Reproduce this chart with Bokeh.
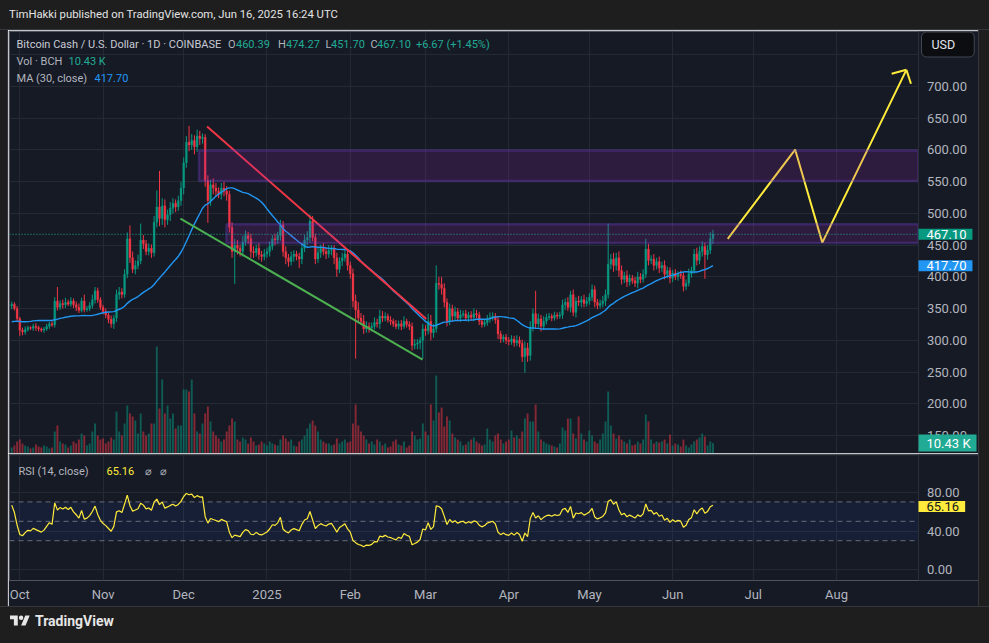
import numpy as np
import pandas as pd
from bokeh.plotting import figure
from bokeh.layouts import column, row
from bokeh.models import (Range1d, FixedTicker, Span, BoxAnnotation, Label, Div, ColumnDataSource,
                          LinearAxis)
from bokeh.embed import file_html
from bokeh.resources import INLINE

# ------------------------------------------------------------------ data
first_day = "2024-09-28"
last_day = "2025-06-16"

# closes Aug 29 - Sep 27 2024 (off-screen, only feed MA30 / RSI14)
warmup_close = [330, 332, 330, 325, 322, 318, 315, 308, 300, 305,
                310, 318, 320, 318, 322, 328, 330, 326, 322, 328,
                330, 336, 340, 345, 342, 348, 350, 345, 352, 354]

close = [
    357, 350, 334,                                                       # Sep 28-30
    316, 313, 317, 320, 319, 322, 320, 318, 316, 318, 322, 326, 324, 362, 352, 358,
    356, 360, 357, 362, 356, 352, 347, 362, 348, 350, 355, 364, 378, 364, 352,  # Oct
    345, 340, 333, 326, 335, 372, 376, 372, 404, 460, 430, 412, 418, 425, 458,
    452, 440, 445, 438, 486, 510, 492, 512, 490, 498, 508, 516, 510, 520, 540,  # Nov
    580, 612, 608, 615, 605, 622, 618, 620, 552, 520, 545, 540, 535, 530, 540, 535,
    530, 478, 440, 450, 445, 440, 455, 465, 460, 440, 438, 445, 435, 432, 436,  # Dec
    440, 448, 460, 458, 465, 482, 440, 430, 424, 432, 436, 432, 428, 445, 458, 462,
    488, 462, 428, 438, 445, 440, 436, 442, 444, 430, 412, 425, 430, 436, 418,  # Jan
    405, 362, 348, 335, 330, 318, 322, 320, 322, 328, 326, 338, 335, 338,
    332, 330, 326, 322, 326, 322, 330, 325, 322, 292, 294, 296, 300, 318,       # Feb
    315, 330, 312, 318, 390, 388, 382, 360, 330, 350, 338, 345, 335, 340, 342, 335,
    340, 336, 342, 340, 330, 325, 328, 334, 336, 338, 332, 310, 302, 305, 300,  # Mar
    298, 302, 296, 300, 295, 274, 288, 276, 320, 342, 326, 334, 322, 330, 336,
    338, 335, 340, 338, 340, 356, 360, 352, 372, 344, 362, 360, 364, 358, 362,  # Apr
    368, 380, 360, 355, 358, 362, 372, 420, 428, 418, 430, 410, 396, 402, 392, 398,
    394, 390, 400, 396, 404, 444, 426, 428, 418, 424, 414, 418, 404, 410, 398,  # May
    406, 400, 404, 402, 385, 390, 405, 410, 436, 426, 440, 448, 435, 442, 460.39, 467.10,  # Jun
]

wick_up = [
    4, 3, 4,
    3, 4, 5, 3, 2, 4, 5, 3, 2, 3, 4, 3, 4, 6, 22, 5, 6, 7, 4, 6, 4, 5, 6, 5, 10, 4, 5, 8, 6, 5, 4,
    4, 5, 4, 6, 5, 8, 8, 6, 8, 10, 21, 10, 8, 10, 26, 8, 6, 8, 6, 10, 26, 57, 12, 10, 8, 10, 8, 6, 8, 10,
    8, 10, 26, 10, 8, 10, 8, 6, 5, 8, 8, 10, 8, 6, 8, 10, 8, 6, 8, 10, 8, 6, 10, 8, 6, 8, 8, 6, 8, 6, 8,
    6, 8, 6, 8, 6, 8, 6, 8, 6, 8, 6, 5, 6, 8, 8, 10, 10, 8, 6, 8, 6, 8, 6, 8, 6, 6, 8, 6, 8, 6, 8,
    6, 8, 10, 12, 8, 10, 8, 6, 6, 8, 6, 10, 8, 6, 4, 6, 4, 6, 5, 6, 8, 4, 5, 6, 8, 6, 5, 8,
    6, 12, 10, 8, 28, 10, 12, 8, 6, 8, 6, 8, 6, 8, 5, 6, 5, 6, 8, 6, 5, 4, 5, 6, 8, 6, 5, 6, 5, 4, 5,
    5, 6, 5, 8, 6, 6, 10, 8, 10, 8, 36, 8, 6, 8, 6, 5, 4, 5, 4, 5, 8, 6, 8, 6, 8, 6, 8, 6, 8, 6,
    6, 8, 6, 5, 6, 8, 8, 64, 8, 10, 8, 10, 8, 6, 8, 6, 5, 6, 8, 6, 8, 16, 8, 6, 8, 6, 8, 6, 8, 6, 5,
    5, 6, 5, 6, 5, 6, 8, 6, 8, 10, 8, 8, 6, 8, 10, 7.17,
]

wick_dn = [
    5, 3, 4,
    9, 5, 4, 3, 3, 4, 5, 4, 3, 4, 3, 4, 3, 4, 5, 4, 6, 5, 3, 4, 5, 6, 4, 3, 4, 3, 4, 5, 6, 5, 4,
    4, 5, 6, 6, 8, 6, 8, 6, 5, 6, 8, 6, 8, 6, 5, 8, 6, 6, 8, 6, 8, 12, 10, 12, 8, 10, 8, 8, 6, 8,
    10, 8, 10, 8, 12, 8, 10, 8, 10, 35, 8, 10, 8, 6, 8, 8, 10, 8, 10, 51, 10, 8, 8, 6, 8, 10, 8, 6, 8, 8, 6,
    6, 8, 6, 8, 6, 8, 8, 10, 8, 6, 8, 6, 14, 8, 6, 8, 8, 6, 8, 6, 8, 6, 8, 6, 8, 10, 12, 6, 8, 6, 8,
    8, 10, 77, 8, 6, 8, 6, 8, 6, 5, 6, 8, 6, 5, 4, 6, 5, 4, 5, 6, 4, 5, 6, 8, 6, 8, 10, 29,
    8, 6, 12, 8, 6, 8, 10, 8, 8, 6, 8, 6, 5, 6, 4, 5, 6, 5, 6, 5, 6, 5, 4, 5, 6, 5, 6, 8, 6, 5, 6,
    6, 5, 6, 5, 6, 8, 25, 10, 8, 6, 8, 6, 8, 6, 5, 4, 5, 4, 5, 4, 6, 8, 6, 8, 6, 8, 6, 8, 6, 5,
    6, 6, 8, 6, 5, 6, 8, 6, 8, 10, 8, 10, 8, 6, 8, 6, 5, 6, 8, 6, 5, 6, 8, 6, 8, 6, 8, 6, 8, 6, 8,
    6, 5, 6, 5, 8, 6, 5, 6, 5, 8, 6, 8, 38, 8, 6, 8.69,
]

volume_k = [
    6, 8, 12,
    14, 10, 8, 7, 5, 6, 9, 7, 6, 8, 7, 5, 6, 22, 28, 12, 10, 9, 6, 8, 12, 10, 14, 20, 18, 8, 10, 22, 30, 18, 14,
    15, 10, 12, 16, 14, 42, 22, 18, 30, 48, 40, 37, 33, 20, 40, 22, 18, 20, 30, 30, 107, 45, 74, 40, 48, 35, 40, 25, 28, 28,
    64, 64, 62, 74, 40, 22, 20, 30, 40, 47, 32, 22, 18, 15, 12, 14, 22, 28, 35, 32, 14, 12, 16, 14, 10, 16, 12, 8, 9, 12, 10,
    8, 12, 10, 9, 8, 14, 18, 15, 12, 14, 8, 7, 12, 14, 18, 25, 30, 33, 28, 22, 14, 12, 10, 10, 8, 9, 15, 10, 12, 14, 11,
    12, 30, 49, 28, 22, 18, 14, 10, 12, 9, 14, 12, 8, 10, 6, 7, 12, 14, 9, 8, 12, 6, 8, 22, 18, 14, 15, 30,
    22, 18, 49, 33, 78, 41, 46, 27, 37, 33, 20, 16, 14, 12, 8, 9, 12, 14, 16, 12, 10, 8, 9, 25, 14, 12, 18, 20, 14, 10, 12,
    14, 23, 16, 18, 15, 22, 35, 40, 32, 32, 49, 22, 14, 12, 10, 9, 8, 7, 6, 10, 26, 23, 35, 35, 20, 15, 37, 20, 14, 12,
    23, 18, 12, 10, 14, 20, 32, 62, 28, 20, 15, 18, 14, 12, 10, 14, 8, 9, 12, 10, 14, 39, 32, 14, 10, 12, 11, 12, 14, 10, 19,
    8, 10, 9, 7, 14, 8, 6, 9, 12, 14, 16, 20, 17, 8, 12, 10.43,
]

price_ticks = [150, 200, 250, 300, 350, 400, 450, 500, 550, 600, 650, 700]
price_grid = price_ticks + [750]
rsi_ticks = [0, 40, 80]
rsi_levels = [70, 50, 30]
month_starts = ["2024-10-01", "2024-11-01", "2024-12-01", "2025-01-01", "2025-02-01", "2025-03-01",
                "2025-04-01", "2025-05-01", "2025-06-01", "2025-07-01", "2025-08-01"]
month_labels = ["Oct", "Nov", "Dec", "2025", "Feb", "Mar", "Apr", "May", "Jun", "Jul", "Aug"]

# drawings (time, price anchors)
zone_start = ["2024-12-06 17:00", "2024-12-16 22:00"]
zone_top = [599.0, 483.0]
zone_bottom = [551.0, 453.5]
red_trend_t = ["2024-12-09 17:00", "2025-03-01 07:00"]
red_trend_p = [636.9, 333.6]
green_trend_t = ["2024-11-29 19:00", "2025-02-27 22:00"]
green_trend_p = [491.8, 269.4]
path_t = ["2025-06-21 12:00", "2025-07-16 14:00", "2025-07-26 17:00", "2025-08-27 00:00"]
path_p = [459.8, 600.6, 454.0, 726.3]
wing_t = ["2025-08-21 12:00", "2025-08-28 17:00"]
wing_p = [720.0, 704.3]

last_close = 467.10
last_ma = 417.70
last_vol = 10.43
last_rsi = 65.16

# ------------------------------------------------------------------ style
FONT = "Roboto"
BG = "#161a25"
OUTER = "#1e1e1e"
EDGE = "#34363c"
GRID = "#252934"
SEP = "#2a2e39"
TXT = "#b2b5be"
UP = "#089981"
DN = "#f23645"
G2 = "#22ab94"
FW = 970          # panel width, page is 989 wide
DAY = 86400000.0


def ms(t):
    return pd.Timestamp(t).value / 1e6


days = pd.date_range(first_day, last_day, freq="D")
n = len(days)
assert len(close) == n and len(wick_up) == n and len(wick_dn) == n and len(volume_k) == n
x = np.array([ms(d) for d in days])

allc = np.array(warmup_close + close, dtype=float)
nw = len(warmup_close)
opn = allc[nw - 1:-1]
cls = allc[nw:]
hi = np.maximum(opn, cls) + np.array(wick_up, dtype=float)
lo = np.minimum(opn, cls) - np.array(wick_dn, dtype=float)
ma30 = pd.Series(allc).rolling(30).mean().to_numpy()[nw:]

dlt = np.diff(allc)
gain = np.clip(dlt, 0, None)
loss = np.clip(-dlt, 0, None)
rsi_all = np.full(len(allc), np.nan)
ag, al = gain[:14].mean(), loss[:14].mean()
rsi_all[14] = 100 - 100 / (1 + ag / al)
for i in range(14, len(dlt)):
    ag = (ag * 13 + gain[i]) / 14
    al = (al * 13 + loss[i]) / 14
    rsi_all[i + 1] = 100 - 100 / (1 + ag / al)
rsi = rsi_all[nw:]

col = [UP if c >= o else DN for o, c in zip(opn, cls)]
src = ColumnDataSource(dict(x=x, h=hi, l=lo, top=np.maximum(opn, cls), bot=np.minimum(opn, cls),
                            col=col, vol=volume_k, ma=ma30, rsi=rsi))

oct1 = ms("2024-10-01")
xr = Range1d(oct1 - 3.834 * DAY, oct1 + 356.84 * DAY)   # frame spans chart + price scale
scale_edge = oct1 + 334.51 * DAY                       # left edge of the price scale
mticks = [int(ms(m)) for m in month_starts]


def base_fig(height, yr, bottom_border):
    f = figure(width=FW, height=height, x_range=xr, y_range=yr, x_axis_location=None,
               y_axis_location=None, toolbar_location=None, output_backend="svg",
               min_border_left=1, min_border_right=0, min_border_top=1, min_border_bottom=bottom_border,
               background_fill_color=BG, border_fill_color=BG, outline_line_color=None)
    f.xgrid.ticker = FixedTicker(ticks=mticks)
    f.xgrid.grid_line_color = GRID
    f.ygrid.grid_line_color = GRID
    return f


def text(fig, X, Y, s, bottom, color=TXT, size="11px", **kw):
    fig.add_layout(Label(x=X - 9, y=bottom - Y, x_units="screen", y_units="screen", text=s,
                         text_color=color, text_font=FONT, text_font_size=size,
                         text_baseline="middle", text_align="left", **kw))


def scale_label(fig, yv, s, rng="default"):
    fig.add_layout(Label(x=917.5, y=yv, x_units="screen", y_units="data", y_range_name=rng, text=s,
                         text_color=TXT, text_font=FONT, text_font_size="13px",
                         text_baseline="middle", text_align="left"))


def tag(fig, yv, s, bg, fg="#ffffff", rng="default"):
    fig.add_layout(Label(x=909, y=yv, x_units="screen", y_units="data", y_range_name=rng, text=s,
                         text_color=fg, text_font=FONT, text_font_size="13px", text_baseline="middle",
                         text_align="left", background_fill_color=bg,
                         padding=dict(left=8, right=6, top=1, bottom=1)))


# ------------------------------------------------------------------ main pane
main = base_fig(423, Range1d(121.6, 786.7), 0)
main.extra_y_ranges = {"vol": Range1d(0, 422)}
main.ygrid.ticker = FixedTicker(ticks=price_grid)

main.vbar(x="x", width=0.72 * DAY, top="vol", bottom=0, y_range_name="vol",
          fill_color="col", fill_alpha=0.5, line_color=None, source=src)
main.segment(x0="x", y0="l", x1="x", y1="h", line_color="col", line_width=1, source=src)
main.vbar(x="x", width=0.72 * DAY, top="top", bottom="bot", fill_color="col",
          line_color="col", line_width=0.3, source=src)
main.line(x="x", y="ma", line_color="#2196f3", line_width=1.4, source=src)

main.line(x=[ms(t) for t in red_trend_t], y=red_trend_p, line_color="#f23645", line_width=2)
main.line(x=[ms(t) for t in green_trend_t], y=green_trend_p, line_color="#4caf50", line_width=2)
main.line(x=[ms(t) for t in path_t], y=path_p, line_color="#ffeb3b", line_width=2)
main.multi_line(xs=[[ms(wing_t[0]), ms(path_t[-1])], [ms(wing_t[1]), ms(path_t[-1])]],
                ys=[[wing_p[0], path_p[-1]], [wing_p[1], path_p[-1]]],
                line_color="#ffeb3b", line_width=2)

for st, tp, bt in zip(zone_start, zone_top, zone_bottom):
    main.add_layout(BoxAnnotation(left=ms(st), right=scale_edge, top=tp, bottom=bt,
                                  fill_color="#9c27b0", fill_alpha=0.18,
                                  line_color="#7446d6", line_width=2.5))
main.add_layout(Span(location=last_close, dimension="width", line_color=G2,
                     line_dash="1 2", line_width=1))
# price-scale strip
main.add_layout(BoxAnnotation(left=scale_edge, fill_color=BG, fill_alpha=1.0, line_color=None))
main.add_layout(Span(location=scale_edge, dimension="height", line_color=SEP, line_width=1))

text(main, 16, 43.5, "Bitcoin Cash / U.S. Dollar · 1D · COINBASE", 453, color="#c9ccd4")
text(main, 227.5, 43.5, "O", 453)
text(main, 235.5, 43.5, "460.39", 453, color=G2)
text(main, 277.5, 43.5, "H", 453)
text(main, 285.5, 43.5, "474.27", 453, color=G2)
text(main, 325, 43.5, "L", 453)
text(main, 330.5, 43.5, "451.70", 453, color=G2)
text(main, 370, 43.5, "C", 453)
text(main, 376.5, 43.5, "467.10", 453, color=G2)
text(main, 415.5, 43.5, "+6.67 (+1.45%)", 453, color=G2)
text(main, 16, 60.5, "Vol · BCH", 453)
text(main, 68, 60.5, "10.43 K", 453, color=G2)
text(main, 16, 77.5, "MA (30, close)", 453)
text(main, 94, 77.5, "417.70", 453, color="#2196f3")

for t in price_ticks:
    scale_label(main, t, f"{t:.2f}")
tag(main, last_close, "467.10", UP)
tag(main, last_ma, "417.70", "#2196f3")
tag(main, last_vol, "10.43 K", G2, rng="vol")
main.add_layout(Label(x=912, y=409, x_units="screen", y_units="screen", text="USD", text_color="#e0e3eb",
                      text_font=FONT, text_font_size="12.5px", text_baseline="middle", text_align="left",
                      background_fill_color="#0c0d10", border_line_color="#434651", border_line_width=1,
                      border_radius=5, padding=dict(left=10, right=19, top=5, bottom=5)))

# ------------------------------------------------------------------ RSI pane
rp = base_fig(153, Range1d(-11.03, 118.9), 26)
rp.ygrid.ticker = FixedTicker(ticks=rsi_ticks)
ax = LinearAxis(ticker=FixedTicker(ticks=mticks),
                major_label_overrides={t: lab for t, lab in zip(mticks, month_labels)},
                major_label_text_color=TXT, major_label_text_font=FONT, major_label_text_font_size="13px",
                major_tick_line_color=None, minor_tick_line_color=None, major_tick_out=0,
                major_label_standoff=6, axis_line_color=None)
rp.add_layout(ax, "below")

rp.add_layout(BoxAnnotation(bottom=rsi_levels[2], top=rsi_levels[0], fill_color="#2962ff",
                            fill_alpha=0.08, line_color=None, level="underlay"))
for lv in rsi_levels:
    rp.add_layout(Span(location=lv, dimension="width", line_color="#6a6d78", line_dash="5 4",
                       line_width=1, level="underlay"))
rp.line(x="x", y="rsi", line_color="#ffeb3b", line_width=1.2, source=src)
rp.add_layout(BoxAnnotation(left=scale_edge, fill_color=BG, fill_alpha=1.0, line_color=None))
rp.add_layout(Span(location=scale_edge, dimension="height", line_color=SEP, line_width=1))
rp.add_layout(Span(location=118.4, dimension="width", line_color=SEP, line_width=1))

text(rp, 18, 470.5, "RSI (14, close)", 580)
text(rp, 106, 470.5, "65.16", 580, color="#ffeb3b")
text(rp, 144, 470.5, "⌀", 580)
text(rp, 159, 470.5, "⌀", 580)
for t in rsi_ticks:
    scale_label(rp, t, f"{t:.2f}")
tag(rp, last_rsi, "65.16", "#ffeb3b", fg="#131722")

# ------------------------------------------------------------------ header / footer / frame
header = Div(text='<div style="padding:8px 0 0 9px;font-family:Roboto;font-size:11.3px;line-height:13px;'
                  'color:#e3e3e3;white-space:nowrap;">TimHakki published on TradingView.com, Jun 16, 2025 16:24 UTC</div>',
             width=989, height=30, margin=0,
             styles={"background-color": OUTER, "box-sizing": "border-box",
                     "border-bottom": f"1px solid {EDGE}"})
footer = Div(text='<div style="display:flex;align-items:center;padding:12px 0 0 10px;height:16px;">'
                  '<svg width="20" height="16" viewBox="0 0 36 28" fill="#e6e6e6">'
                  '<path d="M14 22H7V11H0V4h14v18zM28 22h-8l7.5-18h8L28 22z"/><circle cx="20" cy="8" r="4"/></svg>'
                  '<span style="margin-left:5px;font-family:Roboto;font-weight:700;font-size:14px;color:#e6e6e6;">'
                  'TradingView</span></div>',
             width=989, height=37, margin=0,
             styles={"background-color": OUTER, "box-sizing": "border-box",
                     "border-top": f"1px solid {EDGE}"})
left = Div(text="", width=8, height=576, margin=0,
           styles={"background-color": OUTER, "box-sizing": "border-box", "border-right": f"1px solid {EDGE}"})
right = Div(text="", width=11, height=576, margin=0,
            styles={"background-color": OUTER, "box-sizing": "border-box", "border-left": f"1px solid {EDGE}"})

layout = column(header, row(left, column(main, rp, spacing=0), right, spacing=0), footer, spacing=0)
open("out.html", "w").write(file_html(layout, INLINE))
